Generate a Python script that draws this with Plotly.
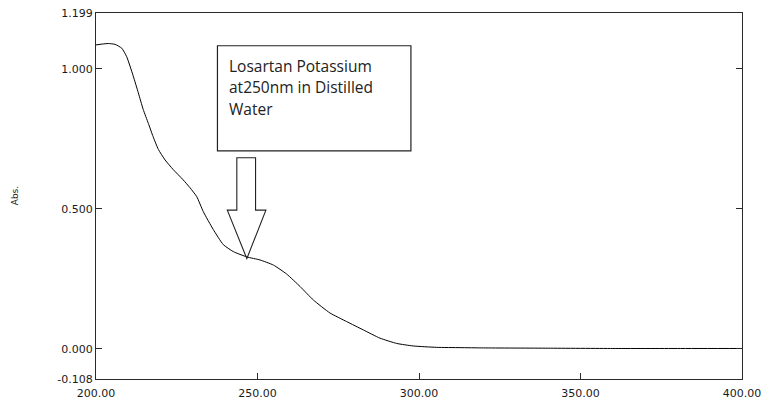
import plotly.graph_objects as go

# ---- data ----
wavelength_nm = [200.0, 201.9, 203.8, 205.9, 208.0, 209.5, 211.5, 213.1, 214.6, 216.2,
                 217.7, 219.3, 221.4, 223.9, 227.0, 229.1, 231.2, 233.2, 236.3, 239.4,
                 242.5, 246.7, 250.8, 254.9, 259.0, 263.2, 267.3, 272.4, 277.6, 282.8,
                 287.9, 293.1, 298.2, 305.5, 312.7, 320.0, 340.0, 360.0, 380.0, 400.0]
absorbance = [1.085, 1.088, 1.090, 1.087, 1.073, 1.043, 0.975, 0.914, 0.855, 0.805,
              0.757, 0.712, 0.674, 0.640, 0.603, 0.575, 0.543, 0.490, 0.426, 0.372,
              0.347, 0.328, 0.317, 0.299, 0.267, 0.222, 0.174, 0.128, 0.097, 0.067,
              0.038, 0.019, 0.010, 0.005, 0.004, 0.003, 0.002, 0.001, 0.001, 0.001]

x_tickvals = [200, 250, 300, 350, 400]
x_ticktext = ["200.00", "250.00", "300.00", "350.00", "400.00"]
y_tickvals = [-0.108, 0.0, 0.5, 1.0, 1.199]
y_ticktext = ["-0.108", "0.000", "0.500", "1.000", "1.199"]
x_range = [200, 400]
y_range = [-0.108, 1.199]

annotation_lines = ["Losartan Potassium", "at250nm in Distilled", "Water"]
y_title = "Abs."

# callout geometry (data units)
box_x = [237.6, 297.5]
box_y = [0.707, 1.082]
text_first_line_y = 1.057
text_line_step = 0.0765
arrow_tip = (246.7, 0.322)
arrow_shaft_x = [243.6, 249.4]
arrow_shaft_top = 0.682
arrow_head_base = 0.495
arrow_head_x = [240.65, 252.6]

AX = "#2a2a2a"
TICKFONT = dict(family="DejaVu Sans", size=11, color="#1a1a1a")

fig = go.Figure()
fig.add_trace(go.Scatter(x=wavelength_nm, y=absorbance, mode="lines",
                         line=dict(color="black", width=1, shape="spline", smoothing=0.5),
                         showlegend=False, hoverinfo="skip"))
# invisible trace to activate right axis
fig.add_trace(go.Scatter(x=[x_range[0]], y=[y_range[0]], yaxis="y2", mode="markers",
                         marker=dict(opacity=0), showlegend=False, hoverinfo="skip"))

fig.update_layout(
    width=761, height=407,
    margin=dict(l=96, r=19, t=13, b=28, autoexpand=False),
    paper_bgcolor="white", plot_bgcolor="white",
    xaxis=dict(range=x_range, tickvals=x_tickvals, ticktext=x_ticktext,
               ticks="inside", ticklen=6, tickcolor=AX, tickwidth=1,
               showline=True, linecolor=AX, linewidth=1.3, mirror=True,
               showgrid=False, zeroline=False, tickfont=TICKFONT,
               ticklabeloverflow="allow", automargin=False, ticklabelstandoff=4),
    yaxis=dict(range=y_range, tickvals=y_tickvals, ticktext=y_ticktext,
               ticks="inside", ticklen=6, tickcolor=AX, tickwidth=1,
               showline=True, linecolor=AX, linewidth=1.3,
               showgrid=False, zeroline=False, tickfont=TICKFONT,
               ticklabeloverflow="allow", automargin=False),
    yaxis2=dict(range=y_range, overlaying="y", side="right",
                tickvals=y_tickvals, ticks="inside", ticklen=6, tickcolor=AX,
                tickwidth=1, showticklabels=False, showline=True, linecolor=AX,
                linewidth=1.3, showgrid=False, zeroline=False, automargin=False),
)

# annotation box
fig.add_shape(type="rect", xref="x", yref="y", x0=box_x[0], x1=box_x[1],
              y0=box_y[0], y1=box_y[1], line=dict(color="#222", width=1.2),
              fillcolor="white")
for i, line in enumerate(annotation_lines):
    fig.add_annotation(xref="x", yref="y", x=box_x[0] + 3.0,
                       y=text_first_line_y - i * text_line_step,
                       xanchor="left", yanchor="top", align="left", showarrow=False,
                       text=line,
                       font=dict(family="Open Sans", size=15.5, color="#222"))

# block arrow
tx, ty = arrow_tip
path = (f"M {arrow_shaft_x[0]},{arrow_shaft_top} L {arrow_shaft_x[1]},{arrow_shaft_top} "
        f"L {arrow_shaft_x[1]},{arrow_head_base} L {arrow_head_x[1]},{arrow_head_base} "
        f"L {tx},{ty} L {arrow_head_x[0]},{arrow_head_base} "
        f"L {arrow_shaft_x[0]},{arrow_head_base} Z")
fig.add_shape(type="path", xref="x", yref="y", path=path,
              line=dict(color="#222", width=1.1), fillcolor="rgba(0,0,0,0)")

# y axis title
fig.add_annotation(xref="paper", yref="paper", x=-0.125, y=0.5, xanchor="center",
                   yanchor="middle", text=y_title, textangle=-90, showarrow=False,
                   font=dict(family="DejaVu Sans", size=9, color="#1a1a1a"))

fig.write_html("out.html", config={"displayModeBar": False},
               post_script="document.body.style.margin='0';"
                           "document.body.style.overflow='hidden';")
